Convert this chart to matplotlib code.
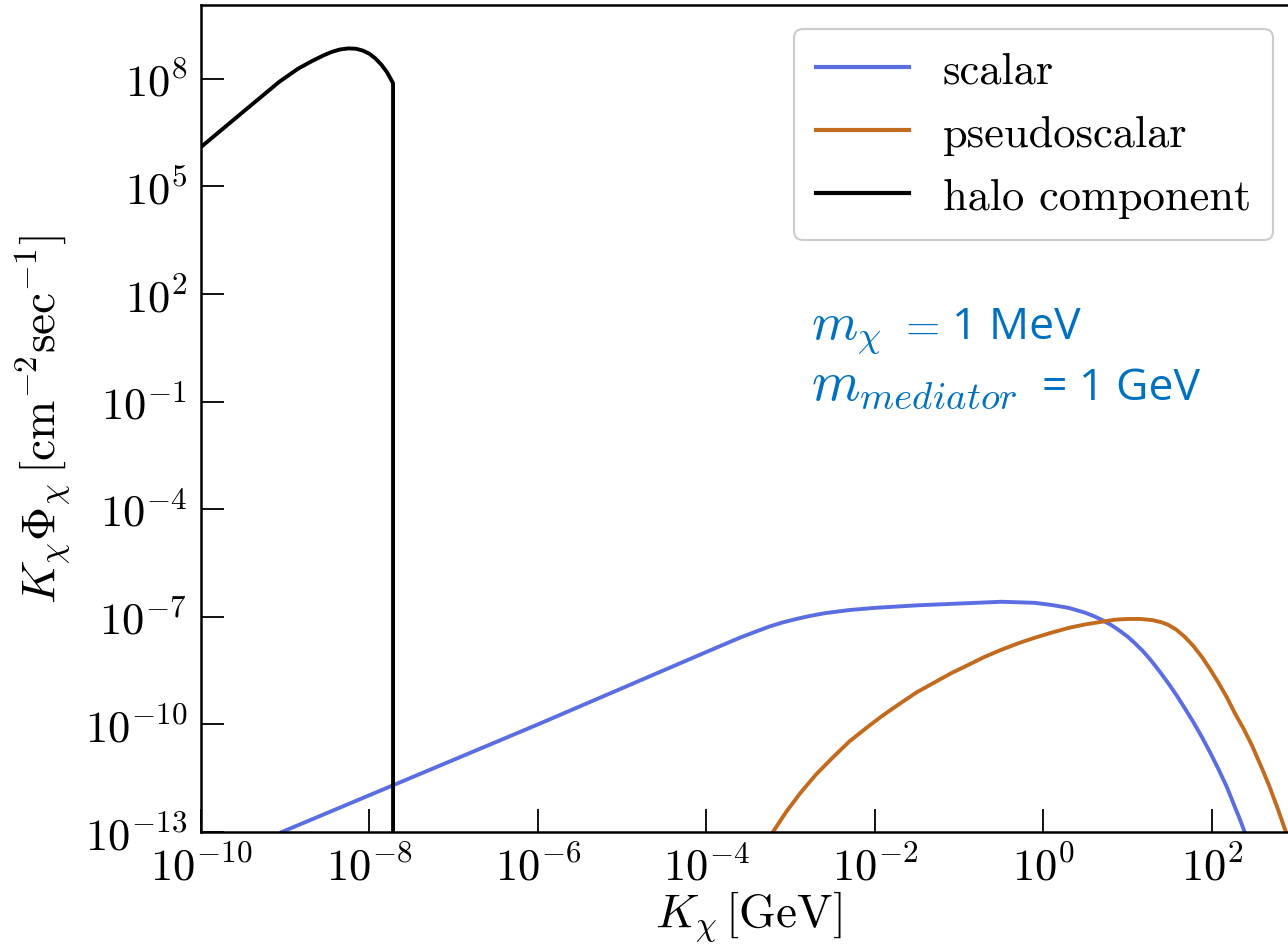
import numpy as np
import matplotlib
matplotlib.use("Agg")
import matplotlib.pyplot as plt
from matplotlib.ticker import NullLocator

plt.rcParams["mathtext.fontset"] = "cm"
plt.rcParams["font.family"] = "serif"
plt.rcParams["font.serif"] = ["cmr10", "DejaVu Serif"]
plt.rcParams["axes.formatter.use_mathtext"] = True

# log10 of kinetic energy [GeV] and log10 of K*Phi [cm^-2 s^-1]
halo_logk = [-10.0, -9.5, -9.07, -8.85, -8.68, -8.55, -8.45, -8.35, -8.25,
             -8.16, -8.08, -8.00, -7.93, -7.86, -7.79, -7.72, -7.72]
halo_logf = [6.10, 7.08, 7.92, 8.28, 8.50, 8.65, 8.75, 8.82, 8.85,
             8.84, 8.79, 8.70, 8.57, 8.40, 8.18, 7.88, -14.0]

scalar_logk = [-9.04, -6.0, -4.0, -3.8, -3.6, -3.4, -3.25, -3.1, -2.95, -2.8,
               -2.6, -2.3, -2.0, -1.5, -1.0, -0.5, -0.1, 0.1, 0.3, 0.49, 0.6,
               0.69, 0.8, 0.89, 1.0, 1.08, 1.18, 1.28, 1.38, 1.48, 1.58, 1.68,
               1.78, 1.88, 1.98, 2.08, 2.18, 2.27, 2.33, 2.39]
scalar_logf = [-13.0, -10.0, -7.98, -7.78, -7.58, -7.40, -7.27, -7.16, -7.07,
               -6.99, -6.90, -6.81, -6.75, -6.68, -6.63, -6.58, -6.61, -6.67,
               -6.75, -6.88, -6.98, -7.08, -7.22, -7.36, -7.55, -7.72, -7.95,
               -8.22, -8.52, -8.84, -9.18, -9.55, -9.93, -10.34, -10.78,
               -11.25, -11.75, -12.28, -12.62, -13.0]

pseudo_logk = [-3.21, -3.05, -2.88, -2.7, -2.49, -2.3, -2.08, -1.9, -1.69,
               -1.5, -1.30, -1.1, -0.89, -0.7, -0.5, -0.3, -0.11, 0.1, 0.30,
               0.5, 0.69, 0.85, 1.0, 1.15, 1.29, 1.4, 1.48, 1.58, 1.68, 1.78,
               1.88, 1.98, 2.08, 2.18, 2.27, 2.38, 2.48, 2.58, 2.68, 2.78, 2.88]
pseudo_logf = [-13.0, -12.43, -11.9, -11.4, -10.9, -10.47, -10.06, -9.74,
               -9.4, -9.1, -8.84, -8.58, -8.34, -8.12, -7.92, -7.74, -7.59,
               -7.44, -7.31, -7.21, -7.14, -7.08, -7.06, -7.06, -7.09, -7.15,
               -7.22, -7.36, -7.56, -7.81, -8.11, -8.46, -8.84, -9.25, -9.67,
               -10.13, -10.6, -11.14, -11.7, -12.33, -13.0]

labels = ["scalar", "pseudoscalar", "halo component"]
colors = ["#5b6ee1", "#c26b1e", "#000000"]

x_ticks = [1e-10, 1e-8, 1e-6, 1e-4, 1e-2, 1e0, 1e2]
y_ticks = [1e-13, 1e-10, 1e-7, 1e-4, 1e-1, 1e2, 1e5, 1e8]

fig = plt.figure(figsize=(12.88, 9.45), dpi=100)
ax = fig.add_axes([201 / 1288, 112 / 945, 1095 / 1288, 827 / 945])

ax.plot(10.0 ** np.array(scalar_logk), 10.0 ** np.array(scalar_logf),
        color=colors[0], lw=2.8, label=labels[0])
ax.plot(10.0 ** np.array(pseudo_logk), 10.0 ** np.array(pseudo_logf),
        color=colors[1], lw=2.8, label=labels[1])
ax.plot(10.0 ** np.array(halo_logk), 10.0 ** np.array(halo_logf),
        color=colors[2], lw=2.8, label=labels[2])

ax.set_xscale("log")
ax.set_yscale("log")
ax.set_xlim(1e-10, 1e3)
ax.set_ylim(1e-13, 10 ** 10.06)

ax.set_xticks(x_ticks)
ax.set_yticks(y_ticks)
ax.xaxis.set_minor_locator(NullLocator())
ax.yaxis.set_minor_locator(NullLocator())

ax.tick_params(axis="both", which="major", direction="in", length=16.5,
               width=1.3, labelsize=32, pad=10)
for s in ax.spines.values():
    s.set_linewidth(1.8)

ax.set_xlabel(r"$K_\chi\,[\mathrm{GeV}]$", fontsize=34, labelpad=0)
ax.set_ylabel(r"$K_\chi\Phi_\chi\,[\mathrm{cm}^{-2}\mathrm{sec}^{-1}]$",
              fontsize=34, labelpad=8)

leg = ax.legend(loc="upper right",
                bbox_to_anchor=(1273 / 1288, 1 - 30 / 945),
                bbox_transform=fig.transFigure, borderaxespad=0.0,
                fontsize=32, handlelength=2.1, handletextpad=0.75,
                labelspacing=0.52, borderpad=0.5, fancybox=True,
                framealpha=1.0, edgecolor="#cccccc")
leg.get_frame().set_linewidth(1.5)
for ln in leg.get_lines():
    ln.set_linewidth(3.0)

# Parameter note, built from pieces: italic symbol, equals sign, value
note_color = "#0070c0"
W, H = 1288.0, 945.0
note_pieces = [
    (811, 339, r"$m_\chi$", 38, None),
    (898, 339, r"$=$", 32, None),
    (952, 339, "1 MeV", 32, "Open Sans"),
    (811, 400, r"$m_{mediator}$", 40, None),
    (1042, 400, "= 1 GeV", 32, "Open Sans"),
]
for px, py, s, size, fam in note_pieces:
    kw = {"family": fam} if fam else {}
    fig.text(px / W, 1 - py / H, s, color=note_color, fontsize=size,
             va="baseline", ha="left", **kw)

fig.savefig("out.png", dpi=100)
